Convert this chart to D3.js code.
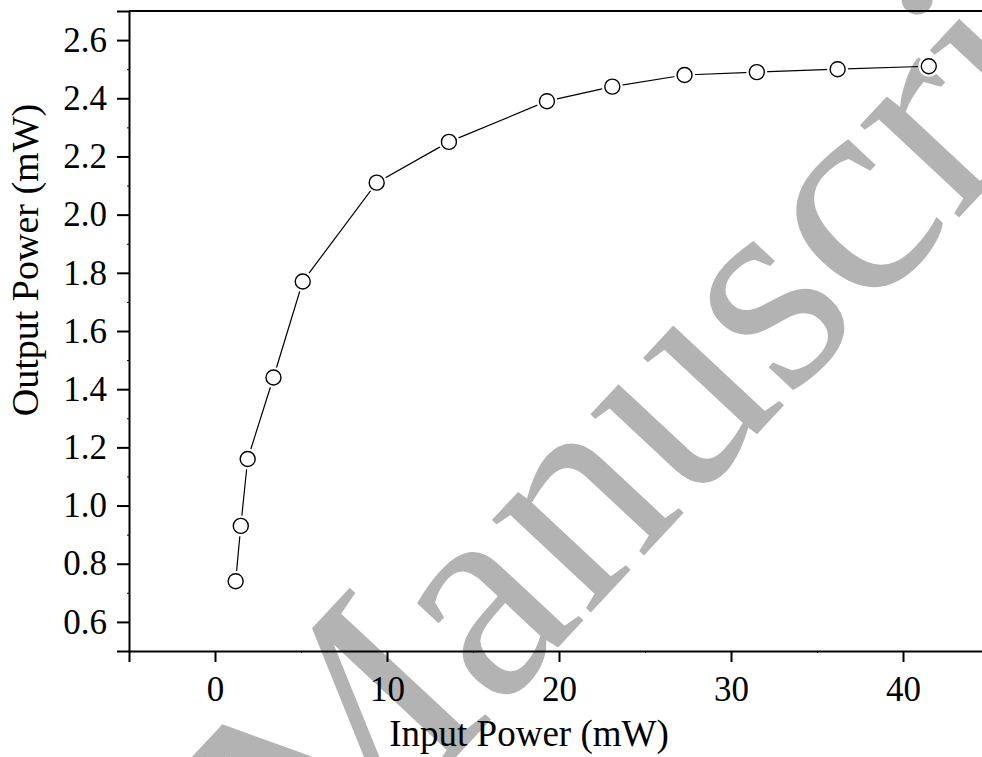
<!DOCTYPE html>
<html>
<head>
<meta charset="utf-8">
<script src="https://cdn.jsdelivr.net/npm/d3@7"></script>
<style>
  html, body { margin: 0; padding: 0; background: #fff; }
  svg { display: block; }
</style>
</head>
<body>
<svg id="chart" width="982" height="757"></svg>
<script>
// ---- data ----
const inputPower  = [1.2, 1.5, 1.9, 3.4, 5.1, 9.4, 13.6, 19.3, 23.1, 27.3, 31.5, 36.2, 41.5];
const outputPower = [0.74, 0.93, 1.16, 1.44, 1.77, 2.11, 2.25, 2.39, 2.44, 2.48, 2.49, 2.50, 2.51];
const xTicks = [0, 10, 20, 30, 40];
const yTicks = [0.6, 0.8, 1.0, 1.2, 1.4, 1.6, 1.8, 2.0, 2.2, 2.4, 2.6];
const xMinorTicks = [-5, 5, 15, 25, 35, 45];
const yMinorTicks = [0.5, 0.7, 0.9, 1.1, 1.3, 1.5, 1.7, 1.9, 2.1, 2.3, 2.5, 2.7];
const xTitle = "Input Power (mW)";
const yTitle = "Output Power (mW)";
const watermark = "Manuscript";

const points = inputPower.map((x, i) => ({ x, y: outputPower[i] }));

const svg = d3.select("#chart");
const font = "'Liberation Serif', 'Times New Roman', serif";

const x = d3.scaleLinear().domain([-5, 45]).range([129, 989]);
const y = d3.scaleLinear().domain([0.5, 2.7]).range([651, 11]);

// ---- watermark (beneath everything) ----
svg.append("text")
  .attr("transform", "translate(318,905) rotate(-47)")
  .attr("font-family", font)
  .attr("font-size", 295)
  .attr("fill", "#b3b3b3")
  .text(watermark);

// ---- frame (top line) ----
svg.append("line")
  .attr("x1", x(-5)).attr("x2", x(45))
  .attr("y1", y(2.7)).attr("y2", y(2.7))
  .attr("stroke", "#000").attr("stroke-width", 2);
svg.append("line")
  .attr("x1", x(45)).attr("x2", x(45))
  .attr("y1", y(2.7)).attr("y2", y(0.5))
  .attr("stroke", "#000").attr("stroke-width", 2);

// ---- axes ----
const xAxis = svg.append("g")
  .attr("transform", `translate(0,${y(0.5)})`)
  .call(d3.axisBottom(x).tickValues(xTicks).tickFormat(d3.format("d")).tickSize(11).tickPadding(14));
const yAxis = svg.append("g")
  .attr("transform", `translate(${x(-5)},0)`)
  .call(d3.axisLeft(y).tickValues(yTicks).tickFormat(d3.format(".1f")).tickSize(12).tickPadding(10));

[xAxis, yAxis].forEach(g => {
  g.select(".domain").attr("stroke", "#000").attr("stroke-width", 2);
  g.selectAll(".tick line").attr("stroke", "#000").attr("stroke-width", 2);
  g.selectAll(".tick text").attr("font-family", font).attr("font-size", 35).attr("fill", "#000");
});

// minor ticks
svg.append("g")
  .attr("transform", `translate(0,${y(0.5)})`)
  .call(d3.axisBottom(x).tickValues(xMinorTicks).tickFormat("").tickSize(2).tickSizeOuter(0))
  .call(g => g.select(".domain").remove())
  .call(g => g.selectAll(".tick line").attr("stroke", "#000").attr("stroke-width", 1));
svg.append("g")
  .attr("transform", `translate(${x(-5)},0)`)
  .call(d3.axisLeft(y).tickValues(yMinorTicks).tickFormat("").tickSize(2).tickSizeOuter(0))
  .call(g => g.select(".domain").remove())
  .call(g => g.selectAll(".tick line").attr("stroke", "#000").attr("stroke-width", 1));

// ---- titles ----
svg.append("text")
  .attr("x", 529).attr("y", 746)
  .attr("text-anchor", "middle")
  .attr("font-family", font).attr("font-size", 37)
  .text(xTitle);
svg.append("text")
  .attr("transform", "translate(38,260) rotate(-90)")
  .attr("text-anchor", "middle")
  .attr("font-family", font).attr("font-size", 38)
  .text(yTitle);

// ---- series ----
const line = d3.line().x(d => x(d.x)).y(d => y(d.y));
svg.append("path")
  .datum(points)
  .attr("d", line)
  .attr("fill", "none")
  .attr("stroke", "#000")
  .attr("stroke-width", 1.2);

// white gaps around markers
svg.append("g").selectAll("circle")
  .data(points).join("circle")
  .attr("cx", d => x(d.x)).attr("cy", d => y(d.y))
  .attr("r", 10.5).attr("fill", "#fff");

svg.append("g").selectAll("circle")
  .data(points).join("circle")
  .attr("cx", d => x(d.x)).attr("cy", d => y(d.y))
  .attr("r", 7.5)
  .attr("fill", "#fff")
  .attr("stroke", "#000")
  .attr("stroke-width", 1.4);
</script>
</body>
</html>
